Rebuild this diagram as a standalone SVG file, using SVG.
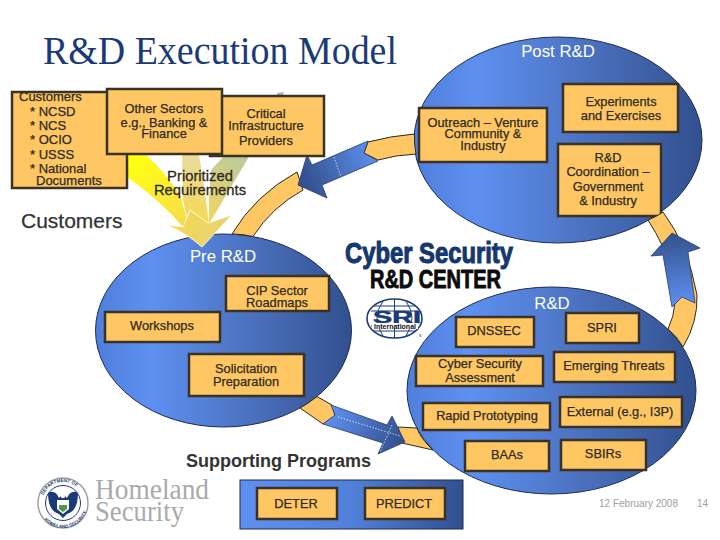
<svg xmlns="http://www.w3.org/2000/svg" width="720" height="540" viewBox="0 0 720 540">
<style>
text{font-family:"Liberation Sans",Arial,sans-serif}
.b{fill:#ffc763;stroke:#3a3226;stroke-width:2.5}
.t{font-size:12.8px;fill:#2e2a22;text-anchor:middle;stroke:#2e2a22;stroke-width:.25}
.r{font-size:14.8px;fill:#2e2a22;text-anchor:middle;stroke:#2e2a22;stroke-width:.3}
.l{font-size:13px;fill:#2e2a22;stroke:#2e2a22;stroke-width:.25}
.e{fill:url(#ball);stroke:#1d2c55;stroke-width:1}
.w{font-size:16.8px;fill:#fff;text-anchor:middle}
.o{fill:#ffc763;stroke:#2b2a22;stroke-width:1}
.d{stroke:#fff;stroke-width:.8;stroke-dasharray:1.5 1.5;fill:none;opacity:.85}
.s{font-family:"Liberation Serif",serif;fill:#aaaaaa}
</style>
<defs>
<linearGradient id="ball" x1="0" y1="0" x2="1" y2="0"><stop offset="0" stop-color="#4f7fdc"/><stop offset=".22" stop-color="#5e90f0"/><stop offset=".62" stop-color="#4a70bc"/><stop offset="1" stop-color="#32508f"/></linearGradient>
<linearGradient id="a1" gradientUnits="userSpaceOnUse" x1="375" y1="150" x2="305" y2="180"><stop offset="0" stop-color="#5e90f0"/><stop offset="1" stop-color="#34528f"/></linearGradient>
<linearGradient id="a2" gradientUnits="userSpaceOnUse" x1="680" y1="305" x2="672" y2="235"><stop offset="0" stop-color="#5e90f0"/><stop offset="1" stop-color="#34528f"/></linearGradient>
<linearGradient id="a3" gradientUnits="userSpaceOnUse" x1="330" y1="412" x2="400" y2="440"><stop offset="0" stop-color="#5e90f0"/><stop offset="1" stop-color="#34528f"/></linearGradient>
<linearGradient id="yl" gradientUnits="userSpaceOnUse" x1="130" y1="165" x2="195" y2="235"><stop offset="0" stop-color="#ffff10"/><stop offset="1" stop-color="#f5d658"/></linearGradient>
<linearGradient id="ym" gradientUnits="userSpaceOnUse" x1="190" y1="155" x2="195" y2="225"><stop offset="0" stop-color="#e8dca0"/><stop offset="1" stop-color="#f6d850"/></linearGradient>
<linearGradient id="yr" gradientUnits="userSpaceOnUse" x1="250" y1="150" x2="208" y2="222"><stop offset="0" stop-color="#b4c8a8"/><stop offset="1" stop-color="#f4d75c"/></linearGradient>
<linearGradient id="yh" gradientUnits="userSpaceOnUse" x1="170" y1="215" x2="232" y2="240"><stop offset="0" stop-color="#f6d84e"/><stop offset="1" stop-color="#e6d27a"/></linearGradient>
<linearGradient id="sup" x1="0" y1="0" x2="1" y2="0"><stop offset="0" stop-color="#5e90f0"/><stop offset=".5" stop-color="#5080d8"/><stop offset="1" stop-color="#32508f"/></linearGradient>
<path id="sealTop" d="M42,503a21,21 0 0 1 42,0"/>
<path id="sealBot" d="M38,503a25,25 0 0 0 50,0"/>
</defs>
<rect width="720" height="540" fill="#fff"/>
<text x="43" y="64" font-size="39" style="font-family:'Liberation Serif',serif" fill="#1b3a78" textLength="354" lengthAdjust="spacingAndGlyphs">R&amp;D Execution Model</text>

<g id="node-pre">
<ellipse class="e" cx="223.5" cy="330.5" rx="128" ry="96.5"/>
<text class="w" x="223" y="262">Pre R&amp;D</text>
<rect class="b" x="226" y="276" width="103" height="35"/><text class="t" x="277" y="295">CIP Sector</text><text class="t" x="277" y="307">Roadmaps</text>
<rect class="b" x="105" y="312" width="115" height="30"/><text class="t" x="162" y="330">Workshops</text>
<rect class="b" x="189" y="354" width="115" height="42"/><text class="t" x="246" y="373">Solicitation</text><text class="t" x="246" y="386">Preparation</text>
</g>
<g id="node-post">
<ellipse class="e" cx="558" cy="140" rx="144" ry="103"/>
<text class="w" x="558" y="57">Post R&amp;D</text>
<rect class="b" x="419" y="108" width="128" height="54"/><text class="t" x="483" y="127">Outreach – Venture</text><text class="t" x="483" y="138">Community &amp;</text><text class="t" x="483" y="150">Industry</text>
<rect class="b" x="563" y="84" width="115" height="48"/><text class="t" x="621" y="106">Experiments</text><text class="t" x="621" y="120">and Exercises</text>
<rect class="b" x="558" y="144" width="103" height="72"/><text class="t" x="608" y="162">R&amp;D</text><text class="t" x="608" y="176">Coordination –</text><text class="t" x="608" y="191">Government</text><text class="t" x="608" y="205">&amp; Industry</text>
</g>
<g id="node-rd">
<ellipse class="e" cx="551.5" cy="390.5" rx="144.5" ry="103.5"/>
<text class="w" x="552" y="309">R&amp;D</text>
<rect class="b" x="456" y="317" width="78" height="30"/><text class="t" x="494" y="335">DNSSEC</text>
<rect class="b" x="566" y="313" width="73" height="30"/><text class="t" x="602" y="332">SPRI</text>
<rect class="b" x="416" y="356" width="127" height="30"/><text class="t" x="480" y="368">Cyber Security</text><text class="t" x="480" y="382">Assessment</text>
<rect class="b" x="554" y="352" width="121" height="30"/><text class="t" x="614" y="370">Emerging Threats</text>
<rect class="b" x="423" y="403" width="127" height="27"/><text class="t" x="487" y="420">Rapid Prototyping</text>
<rect class="b" x="560" y="397" width="122" height="30"/><text class="t" x="620" y="416">External (e.g., I3P)</text>
<rect class="b" x="465" y="441" width="84" height="30"/><text class="t" x="507" y="459">BAAs</text>
<rect class="b" x="561" y="440" width="85" height="30"/><text class="t" x="603" y="458">SBIRs</text>
</g>

<g id="connectors">
<path class="o" d="M232,234Q255,195 297,172L303,190Q272,207 253,236.5Q243,234 232,234Z"/>
<path class="o" d="M368,142Q390,136 414.5,134Q414,144 416,154Q395,155 378,160L364,153Z"/>
<path class="o" d="M663,212Q688,245 697,295Q698,322 683,347Q677,336 668,329Q680,305 672,270Q664,245 648,220Q656,217 663,212Z"/>
<path class="o" d="M317,396.5L332,405L335,416L323,424L300,408Q309,403 317,396.5Z"/>
<path class="o" d="M398,427L417,428Q420,438 433,450L402,443Z"/>
<path d="M277,93L284,92L278,110Z" fill="#9db8bc"/>
<path d="M209,200L211,170L225,155L250,155L209,224Z" fill="url(#yr)"/>
<path d="M182,154L199,154Q205,190 209,224L190,232L183,200Z" fill="url(#ym)"/>
<path d="M125,154L145,154Q168,175 181,197L190,232L183,227Q160,200 127,177Z" fill="url(#yl)"/>
<path d="M167,225L183,227L190,210L208,223L232,215L202,247Q186,233 167,225Z" fill="url(#yh)" stroke="#fff" stroke-width=".8"/>
<path d="M368,141L364,153L378,161L322,185L327,198L298,185L307,155L312,165Z" fill="url(#a1)" stroke="#2b3a66" stroke-width=".8"/>
<path class="d" d="M334,157L341,177"/>
<path d="M672,233L700,248L688,252L695,303L682,297L672,307L663,255L651,256Z" fill="url(#a2)" stroke="#2b3a66" stroke-width=".8"/>
<path d="M331,405L387,425L392,416L405,442L378,454L383,443L323,424L335,415Z" fill="url(#a3)" stroke="#2b3a66" stroke-width=".8"/>
<path class="d" d="M338,417L400,436M392,425L380,452"/>
</g>

<g id="node-critical"><rect class="b" x="210" y="96" width="114" height="60"/><text class="t" x="266" y="118">Critical</text><text class="t" x="266" y="130">Infrastructure</text><text class="t" x="266" y="145">Providers</text></g>
<g id="node-customers"><rect class="b" x="12" y="92" width="115" height="96"/>
<text class="l" x="19" y="101">Customers</text><text class="l" x="30" y="116">* NCSD</text><text class="l" x="30" y="130">* NCS</text><text class="l" x="30" y="144">* OCIO</text><text class="l" x="30" y="159">* USSS</text><text class="l" x="30" y="173">* National</text><text class="l" x="36" y="185">Documents</text></g>
<g id="node-other"><rect class="b" x="107" y="89" width="115" height="65"/><text class="t" x="164" y="113">Other Sectors</text><text class="t" x="164" y="127">e.g., Banking &amp;</text><text class="t" x="164" y="138">Finance</text></g>

<g id="label-requirements"><text class="r" x="200" y="181">Prioritized</text><text class="r" x="200" y="195">Requirements</text></g>
<text x="21" y="228" font-size="21" fill="#333" stroke="#333" stroke-width=".25">Customers</text>
<text x="186" y="467" font-size="18" font-weight="bold" fill="#333">Supporting Programs</text>

<g id="node-supporting"><rect x="240" y="480" width="223" height="49" fill="url(#sup)" stroke="#1d2c55"/>
<rect class="b" x="257" y="488" width="80" height="31"/><text class="t" x="296" y="508">DETER</text>
<rect class="b" x="365" y="488" width="80" height="31"/><text class="t" x="404" y="508">PREDICT</text></g>

<g id="logo-center">
<text x="345" y="263" font-size="30" font-weight="bold" fill="#15376f" stroke="#15376f" stroke-width="1.1" textLength="168" lengthAdjust="spacingAndGlyphs">Cyber Security</text>
<text x="370" y="288" font-size="26" font-weight="bold" fill="#0c0c0c" stroke="#0c0c0c" stroke-width=".9" textLength="131" lengthAdjust="spacingAndGlyphs">R&amp;D CENTER</text>
</g>
<g id="logo-sri">
<ellipse cx="394.5" cy="318.5" rx="27.5" ry="19.5" fill="#fff" stroke="#1b3a78" stroke-width="1.6"/>
<path d="M394.5,299V338M383,301Q371,318 383,336M406,301Q418,318 406,336M374,306H415M371,311H418M371,326H418M374,331H415" fill="none" stroke="#1b3a78" stroke-width="1"/>
<text x="397" y="323" font-size="16" font-weight="bold" fill="#1b3a78" stroke="#1b3a78" stroke-width=".5" text-anchor="middle" textLength="48" lengthAdjust="spacingAndGlyphs">SRI</text>
<rect x="372" y="323" width="46" height="6" fill="#fff"/>
<text x="395" y="329" font-size="7" font-weight="bold" fill="#111" text-anchor="middle">International</text>
<text x="419" y="337" font-size="5" fill="#333">s</text>
</g>
<g id="logo-dhs">
<circle cx="63" cy="503" r="25" fill="#fff" stroke="#9a9aa4" stroke-width="1.4"/>
<circle cx="63" cy="503" r="17.5" fill="#fff" stroke="#24386f" stroke-width="1"/>
<path d="M48,493Q55,489 59,498L63,494L67,498Q71,489 78,493Q78,511 67,514L63,518L59,514Q48,511 48,493Z" fill="#1d3a78"/>
<path d="M57,500H69V509L63,514L57,509Z" fill="#fff"/><path d="M59,505H67V509L63,512L59,509Z" fill="#4c9a4c"/>
<circle cx="63" cy="496" r="2.2" fill="#fff"/>
<text font-size="4.6" fill="#24386f" font-weight="bold"><textPath href="#sealTop" startOffset="8">DEPARTMENT OF</textPath></text>
<text font-size="4.6" fill="#24386f" font-weight="bold"><textPath href="#sealBot" startOffset="18">HOMELAND SECURITY</textPath></text>
<text class="s" x="95" y="499" font-size="30" textLength="114" lengthAdjust="spacingAndGlyphs">Homeland</text>
<text class="s" x="95" y="521" font-size="30" textLength="89" lengthAdjust="spacingAndGlyphs">Security</text>
</g>
<text x="599" y="507" font-size="10" fill="#a0a0a0">12 February 2008</text>
<text x="697" y="507" font-size="10" fill="#a0a0a0">14</text>
</svg>
